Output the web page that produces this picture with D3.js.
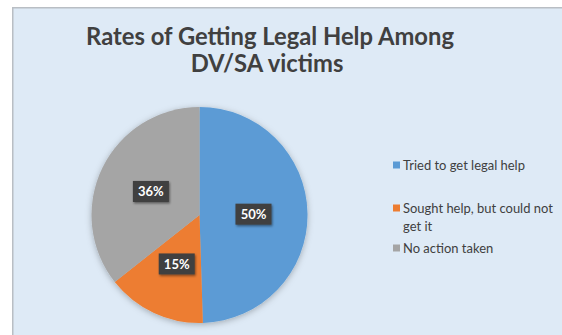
<!DOCTYPE html>
<html>
<head>
<meta charset="utf-8">
<script src="https://cdn.jsdelivr.net/npm/d3@7/dist/d3.min.js"></script>
<style>
  html, body { margin: 0; padding: 0; background: #ffffff; }
  svg { display: block; }
</style>
</head>
<body>
<svg id="chart" width="562" height="335"></svg>
<script>
// Survey shares (percent) for each response
const categories = ["Tried to get legal help", "Sought help, but could not get it", "No action taken"];
const values = [50, 15, 36];
const colors = ["#5b9bd5", "#ed7d31", "#a5a5a5"];
const titleLines = ["Rates of Getting Legal Help Among", "DV/SA victims"];
const legendLines = [["Tried to get legal help"], ["Sought help, but could not", "get it"], ["No action taken"]];

const W = 562, H = 335;
const svg = d3.select("#chart");
const FONT = "Lato, 'Open Sans', sans-serif";

const defs = svg.append("defs");
const pieShadow = defs.append("filter").attr("id", "pieShadow")
  .attr("x", "-20%").attr("y", "-20%").attr("width", "140%").attr("height", "140%");
pieShadow.append("feDropShadow").attr("dx", 0).attr("dy", 1.5).attr("stdDeviation", 3)
  .attr("flood-color", "#000").attr("flood-opacity", 0.28);
const boxShadow = defs.append("filter").attr("id", "boxShadow")
  .attr("x", "-30%").attr("y", "-40%").attr("width", "160%").attr("height", "180%");
boxShadow.append("feDropShadow").attr("dx", 1).attr("dy", 1.5).attr("stdDeviation", 1.2)
  .attr("flood-color", "#000").attr("flood-opacity", 0.45);

// Chart area with its thin frame
svg.append("rect").attr("x", 12).attr("y", 7).attr("width", W - 12).attr("height", H - 7)
  .attr("fill", "#b9bec4");
svg.append("rect").attr("x", 13.5).attr("y", 8.5).attr("width", W - 13.5).attr("height", H - 8.5)
  .attr("fill", "#deeaf6");

// Helper: set a font size so the text spans the given width
function fitText(sel, target) {
  const w = sel.node().getComputedTextLength();
  const fs = parseFloat(sel.attr("font-size"));
  sel.attr("font-size", (fs * target / w).toFixed(2));
}

// Title
const titleCx = 270;
const t1 = svg.append("text").attr("x", titleCx).attr("y", 45)
  .attr("text-anchor", "middle").attr("font-family", FONT).attr("font-weight", "bold")
  .attr("font-size", 22).attr("fill", "#404040").text(titleLines[0]);
fitText(t1, 368);
const fsTitle = t1.attr("font-size");
svg.append("text").attr("x", titleCx - 3).attr("y", 71.5)
  .attr("text-anchor", "middle").attr("font-family", FONT).attr("font-weight", "bold")
  .attr("font-size", fsTitle).attr("fill", "#404040").text(titleLines[1]);

// Pie
const cx = 199.5, cy = 215, R = 108;
const pie = d3.pie().sort(null).value(d => d)(values);
const arc = d3.arc().innerRadius(0).outerRadius(R);
const labelArc = d3.arc().innerRadius(R * 0.5).outerRadius(R * 0.5);

const g = svg.append("g").attr("transform", `translate(${cx},${cy})`);
g.append("g").attr("filter", "url(#pieShadow)")
  .selectAll("path").data(pie).join("path")
  .attr("d", arc).attr("fill", (d, i) => colors[i]);

// Data labels in dark boxes
const labels = g.selectAll("g.lbl").data(pie).join("g").attr("class", "lbl")
  .attr("transform", d => `translate(${labelArc.centroid(d)})`);
labels.append("rect").attr("x", -18).attr("y", -10.5).attr("width", 36).attr("height", 21)
  .attr("fill", "#404040").attr("filter", "url(#boxShadow)");
labels.append("text").attr("text-anchor", "middle").attr("dy", "0.36em")
  .attr("font-family", FONT).attr("font-weight", "bold").attr("font-size", 13)
  .attr("fill", "#ffffff").text(d => d.data + "%");

// Legend
const legendX = 393, legendTextX = 403;
const legendY = [165, 208, 248];
const lineGap = 18;
const legend = svg.append("g");
let legendFs = null;
categories.forEach((c, i) => {
  legend.append("rect").attr("x", legendX).attr("y", legendY[i] - 3.5)
    .attr("width", 7).attr("height", 7).attr("fill", colors[i]);
  legendLines[i].forEach((ln, j) => {
    const t = legend.append("text").attr("x", legendTextX).attr("y", legendY[i] + j * lineGap)
      .attr("dy", "0.35em").attr("font-family", FONT).attr("font-size", 11)
      .attr("fill", "#404040").text(ln);
    if (i === 0 && j === 0) { fitText(t, 122); legendFs = t.attr("font-size"); }
    else t.attr("font-size", legendFs);
  });
});
</script>
</body>
</html>
